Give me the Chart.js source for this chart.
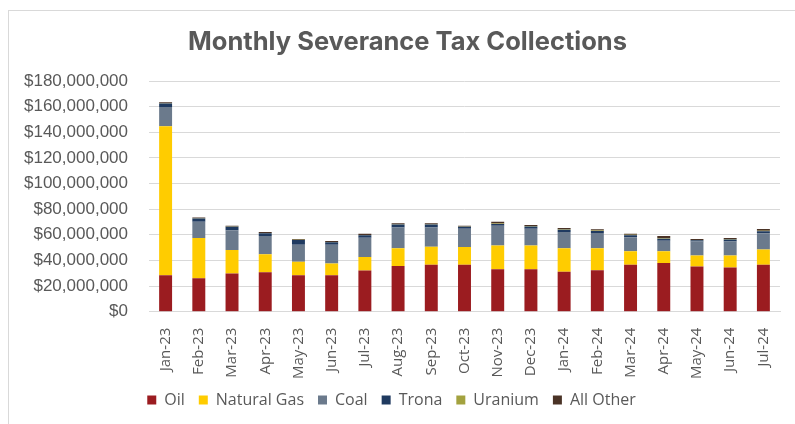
<!DOCTYPE html>
<html>
<head>
<meta charset="utf-8">
<script src="https://cdn.jsdelivr.net/npm/chart.js@4/dist/chart.umd.min.js"></script>
<style>
  html, body { margin: 0; padding: 0; background: #ffffff; }
  #wrap { position: relative; width: 795px; height: 424px; }
</style>
</head>
<body>
<div id="wrap"><canvas id="taxChart" width="795" height="424"></canvas></div>
<script>
// Months shown on the x axis
const months = ['Jan-23', 'Feb-23', 'Mar-23', 'Apr-23', 'May-23', 'Jun-23', 'Jul-23', 'Aug-23', 'Sep-23',
    'Oct-23', 'Nov-23', 'Dec-23', 'Jan-24', 'Feb-24', 'Mar-24', 'Apr-24', 'May-24', 'Jun-24', 'Jul-24'];

// Collections by source, in dollars
const oil = [28500000, 26100000, 29800000, 30800000, 28500000, 28500000, 32200000, 35600000, 36700000, 36700000,
    33200000, 33200000, 31100000, 32400000, 36700000, 37900000, 35300000, 34500000, 36700000];
const naturalGas = [116200000, 31400000, 18400000, 14000000, 10500000, 9200000, 10500000, 14000000, 13900000, 13700000,
    18500000, 18500000, 18500000, 17200000, 10500000, 9300000, 8500000, 9300000, 11800000];
const coal = [15000000, 12600000, 15300000, 14200000, 13200000, 14500000, 15000000, 16000000, 15000000, 14400000,
    15300000, 13100000, 12600000, 11800000, 10800000, 8100000, 11000000, 11000000, 12700000];
const trona = [2700000, 2600000, 2700000, 2200000, 3700000, 1900000, 1900000, 2400000, 2400000, 1400000,
    1500000, 1600000, 1800000, 1600000, 1600000, 1600000, 900000, 1600000, 1600000];
const uranium = [300000, 200000, 200000, 300000, 200000, 300000, 300000, 300000, 300000, 300000,
    400000, 400000, 400000, 300000, 400000, 400000, 300000, 300000, 400000];
const allOther = [700000, 600000, 600000, 700000, 600000, 700000, 1000000, 800000, 800000, 500000,
    1200000, 900000, 1000000, 1000000, 900000, 1700000, 700000, 800000, 1400000];

// Y axis range
const yMax = 180000000;
const yStep = 20000000;

const chartTitle = 'Monthly Severance Tax Collections';
const textColor = '#595959';
const gridColor = '#d9d9d9';

// Light frame round the chart plus the title, placed like the original sheet
const framePlugin = {
    id: 'frame',
    beforeDraw: function(chart) {
        let ctx = chart.ctx;
        ctx.save();
        ctx.fillStyle = '#ffffff';
        ctx.fillRect(0, 0, chart.width, chart.height);
        ctx.strokeStyle = gridColor;
        ctx.lineWidth = 1;
        ctx.strokeRect(8.5, 10.5, chart.width + 20, chart.height + 20);
        ctx.restore();
    },
    afterDraw: function(chart) {
        let ctx = chart.ctx;
        ctx.save();
        ctx.fillStyle = textColor;
        ctx.font = 'bold 25.5px Inter, "Open Sans", sans-serif';
        ctx.textAlign = 'center';
        ctx.textBaseline = 'middle';
        ctx.fillText(chartTitle, 407.5, 42);
        ctx.restore();
    }
};

function makeSet(label, data, colour) {
    return {
        label: label,
        data: data,
        backgroundColor: colour,
        borderWidth: 0,
        categoryPercentage: 1.0,
        barPercentage: 0.39
    };
}

let ctx = document.getElementById('taxChart').getContext('2d');
new Chart(ctx, {
    type: 'bar',
    data: {
        labels: months,
        datasets: [
            makeSet('Oil', oil, '#9b1c20'),
            makeSet('Natural Gas', naturalGas, '#ffcc00'),
            makeSet('Coal', coal, '#6b7a8c'),
            makeSet('Trona', trona, '#1f3a60'),
            makeSet('Uranium', uranium, '#a3a23f'),
            makeSet('All Other', allOther, '#4a3326')
        ]
    },
    plugins: [framePlugin],
    options: {
        responsive: false,
        animation: false,
        layout: { padding: { left: 3, right: 15, top: 81, bottom: 6 } },
        plugins: {
            title: { display: false },
            legend: {
                position: 'bottom',
                labels: {
                    color: textColor,
                    boxWidth: 9,
                    boxHeight: 9,
                    padding: 14,
                    font: { family: '"Open Sans", sans-serif', size: 16 }
                }
            },
            tooltip: { enabled: false }
        },
        scales: {
            x: {
                stacked: true,
                grid: { display: false },
                border: { color: gridColor, width: 1 },
                ticks: {
                    color: textColor,
                    minRotation: 90,
                    maxRotation: 90,
                    padding: 8,
                    font: { family: '"Open Sans", sans-serif', size: 15 }
                },
                afterFit: function(scale) { scale.height = 66.3; }
            },
            y: {
                stacked: true,
                min: 0,
                max: yMax,
                grid: { color: gridColor, lineWidth: 1, drawTicks: false },
                border: { display: false },
                ticks: {
                    stepSize: yStep,
                    color: textColor,
                    padding: 21,
                    font: { family: '"Liberation Sans", Arial, sans-serif', size: 17 },
                    callback: function(value) {
                        return '$' + value.toLocaleString('en-US');
                    }
                },
                afterFit: function(scale) { scale.width = 146; }
            }
        }
    }
});
</script>
</body>
</html>
